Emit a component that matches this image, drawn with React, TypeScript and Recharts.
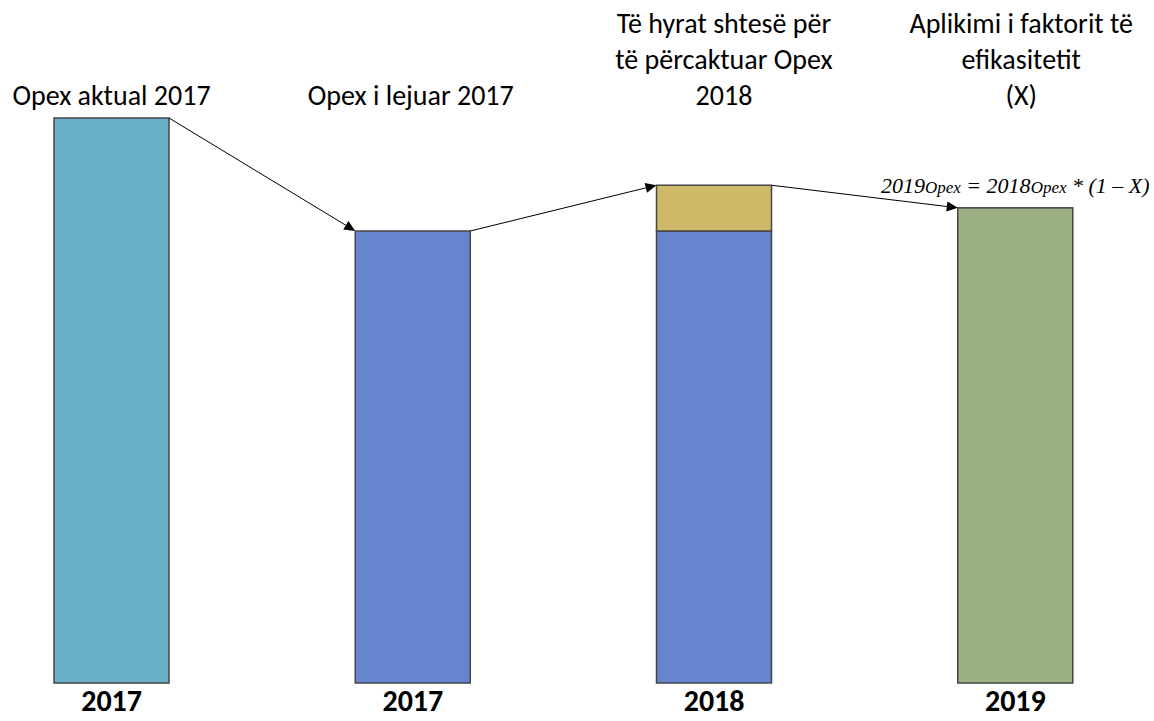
import React from 'react';
import { BarChart, Bar, XAxis, YAxis } from 'recharts';

const categories = ['c1', 'c2', 'c3', 'c4'];
const tickLabels = ['2017', '2017', '2018', '2019'];
const baseValues = [100, 80, 80, 84.1];
const extraValues = [0, 0, 8.1, 0];
const baseColors = ['#6AB0C8', '#6685CE', '#6685CE', '#9DB083'];
const extraColor = '#CDB967';
const topLabels: string[][] = [
  ['Opex aktual 2017'],
  ['Opex i lejuar 2017'],
  ['Të hyrat shtesë për', 'të përcaktuar Opex', '2018'],
  ['Aplikimi i faktorit të', 'efikasitetit', '(X)'],
];
const labelShift = [0, -2, 10, 6];

const data = categories.map((c, i) => ({
  cat: c,
  base: baseValues[i],
  extra: extraValues[i],
}));

const CHART_W = 1205;
const BAND = CHART_W / categories.length;
const FONT = 'Carlito, Lato, sans-serif';

function Arrow({ x1, y1, x2, y2 }: { x1: number; y1: number; x2: number; y2: number }) {
  const dx = x2 - x1;
  const dy = y2 - y1;
  const len = Math.sqrt(dx * dx + dy * dy);
  const ux = dx / len;
  const uy = dy / len;
  const hl = 11;
  const hw = 5;
  const bx = x2 - ux * hl;
  const by = y2 - uy * hl;
  const p1 = `${x2},${y2}`;
  const p2 = `${bx - uy * hw},${by + ux * hw}`;
  const p3 = `${bx + uy * hw},${by - ux * hw}`;
  return (
    <g>
      <line x1={x1} y1={y1} x2={bx} y2={by} stroke="#000" strokeWidth={1} />
      <polygon points={`${p1} ${p2} ${p3}`} fill="#000" />
    </g>
  );
}

const BaseShape = (props: any) => {
  const { x, y, width, height, index, payload } = props;
  const ppu = height / payload.base;
  const baseline = y + height;
  const totalTop = (j: number) => baseline - (baseValues[j] + extraValues[j]) * ppu;
  const cx = x + width / 2;
  const lines = topLabels[index];
  const lastBaseline = 105;
  return (
    <g>
      <rect x={x} y={y} width={width} height={height} fill={baseColors[index]} stroke="#454545" strokeWidth={1.5} />
      {index < categories.length - 1 && (
        <Arrow x1={x + width} y1={totalTop(index)} x2={x + BAND} y2={totalTop(index + 1)} />
      )}
      <text x={cx + labelShift[index]} textAnchor="middle" fontFamily={FONT} fontSize={28} fill="#000">
        {lines.map((l, k) => (
          <tspan key={k} x={cx + labelShift[index]} y={lastBaseline - (lines.length - 1 - k) * 36}>
            {l}
          </tspan>
        ))}
      </text>
      {index === 3 && (
        <text x={cx} y={totalTop(index) - 15} textAnchor="middle" fontFamily="'Liberation Serif', serif" fontStyle="italic" fontSize={22} fill="#000">
          <tspan>2019</tspan>
          <tspan fontSize={17}>Opex</tspan>
          <tspan> = 2018</tspan>
          <tspan fontSize={17}>Opex</tspan>
          <tspan> * (1 – X)</tspan>
        </text>
      )}
    </g>
  );
};

const ExtraShape = (props: any) => {
  const { x, y, width, height } = props;
  if (!height) return <g />;
  return <rect x={x} y={y} width={width} height={height} fill={extraColor} stroke="#454545" strokeWidth={1.5} />;
};

export default function App() {
  return (
    <div style={{ position: 'absolute', left: 0, top: 0, width: 1154, height: 721, overflow: 'hidden', background: '#fff' }}>
      <div style={{ position: 'absolute', left: -38.65, top: 0 }}>
        <BarChart width={CHART_W} height={721} data={data} margin={{ top: 118, right: 0, bottom: 0, left: 0 }} barCategoryGap={0}>
          <XAxis
            dataKey="cat"
            height={38}
            axisLine={false}
            tickLine={false}
            tickMargin={1}
            tickFormatter={(_v: any, i: number) => tickLabels[i]}
            tick={{ fill: '#000', fontSize: 30, fontWeight: 700, fontFamily: FONT }}
          />
          <YAxis hide domain={[0, 100]} />
          <Bar dataKey="base" stackId="s" barSize={115} isAnimationActive={false} shape={BaseShape} />
          <Bar dataKey="extra" stackId="s" barSize={115} isAnimationActive={false} shape={ExtraShape} />
        </BarChart>
      </div>
    </div>
  );
}
